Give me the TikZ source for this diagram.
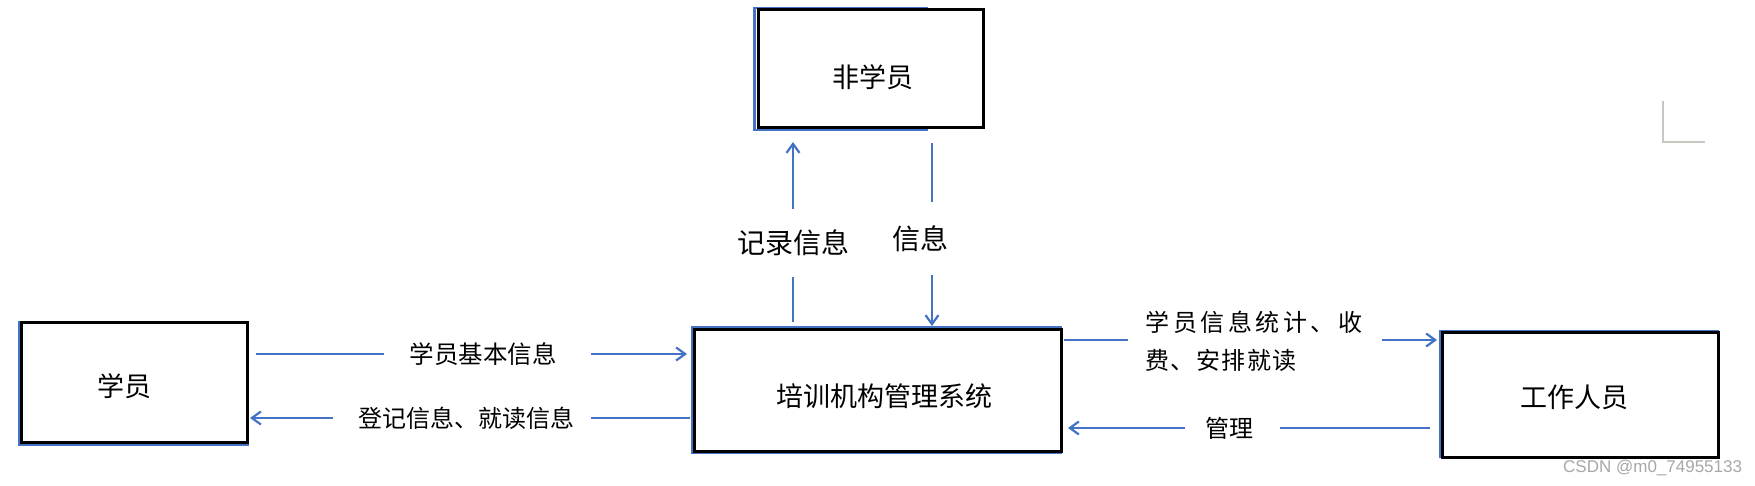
\documentclass[tikz,border=0pt]{standalone}
\usepackage{fontspec}
\setmainfont{Noto Sans CJK SC}
\newfontfamily\wmfont{Liberation Sans}
\usetikzlibrary{arrows.meta}
\definecolor{lnblue}{RGB}{68,114,196}
\definecolor{wmgray}{RGB}{168,168,168}
\definecolor{markgray}{RGB}{200,200,192}
\begin{document}
\begin{tikzpicture}[x=1pt,y=-1pt,
  box/.style={draw=black, line width=3pt, rectangle, inner sep=0pt},
  boxtext/.style={font=\fontsize{27}{30}\selectfont, inner sep=0pt},
  blueedge/.style={draw=lnblue, line width=2.4pt},
  conn/.style={draw=lnblue, line width=2.2pt, -{Straight Barb[length=9pt,width=13pt]}},
  lab/.style={fill=white, inner sep=0pt, font=\fontsize{24}{28}\selectfont},
  labbig/.style={fill=white, inner sep=0pt, font=\fontsize{28}{32}\selectfont},
  wm/.style={font=\wmfont\fontsize{17}{20}\selectfont, text=wmgray, inner sep=0pt}]
\useasboundingbox (0,0) rectangle (1755,486);
\fill[white] (0,0) rectangle (1755,486);

% blue under-edges of the original boxes
\draw[blueedge] (928,130) -- (754.5,130) -- (754.5,8) -- (928,8);
\draw[blueedge] (19,321) -- (19,445) -- (249,445);
\draw[blueedge] (1062,327.5) -- (692,327.5) -- (692,453) -- (1062,453);
\draw[blueedge] (1440,458) -- (1440,331) -- (1719,331);

% boxes
\node[box, minimum width=225pt, minimum height=118pt] (nonstu) at (870.5,69) {};
\node[box, minimum width=226pt, minimum height=120pt] (stu) at (134,382) {};
\node[box, minimum width=367pt, minimum height=122pt] (sys) at (877.5,390) {};
\node[box, minimum width=276pt, minimum height=125pt] (staff) at (1580,394.5) {};

\node[boxtext] (tnonstu) at (873,77) {非学员};
\node[boxtext] (tstu) at (124,386) {学员};
\node[boxtext] (tsys) at (884,396) {培训机构管理系统};
\node[boxtext] (tstaff) at (1574,397) {工作人员};

% label positions
\coordinate (c1) at (487.5,354);
\coordinate (c2) at (462,418);
\coordinate (c3) at (1254.5,340);
\coordinate (c4) at (1232.5,428);
\coordinate (c5) at (793,243);
\coordinate (c6) at (932,238.5);

% connectors
\draw[conn, shorten <=7.5pt, shorten >=5.5pt] (stu.east |- c1) -- (sys.west |- c1);
\draw[conn, shorten <=2.5pt, shorten >=1.5pt] (sys.west |- c2) -- (stu.east |- c2);
\draw[conn, shorten <=1pt, shorten >=3.5pt] (sys.east |- c3) -- (staff.west |- c3);
\draw[conn, shorten <=10.5pt, shorten >=5.5pt] (staff.west |- c4) -- (sys.east |- c4);
\draw[conn, shorten <=5.5pt, shorten >=12.5pt] (sys.north -| c5) -- (nonstu.south -| c5);
\draw[conn, shorten <=13.5pt, shorten >=1.5pt] (nonstu.south -| c6) -- (sys.north -| c6);

% labels (white, they break the connectors)
\node[lab, minimum width=207pt, minimum height=30pt, font=\fontsize{24.5}{28}\selectfont] (l1) at (c1) {\hspace*{-9pt}学员基本信息};
\node[lab, minimum width=258pt, minimum height=30pt] (l2) at (c2) {登记信息、就读信息\hspace*{-8pt}};
\node[lab, inner xsep=18pt, text width=218pt, align=left] (l3) at ([yshift=-1pt]c3)
  {\makebox[217pt][s]{学\hfil 员\hfil 信\hfil 息\hfil 统\hfil 计\hfil 、\hfil 收}\\[10pt]
   \makebox[151pt][s]{费\hfil 、\hfil 安\hfil 排\hfil 就\hfil 读}};
\node[lab, minimum width=95pt, minimum height=30pt] (l4) at (c4) {\hspace*{-7pt}管理};
\node[labbig, minimum height=68pt] (l5) at (c5) {记录信息};
\node[labbig, minimum height=73pt] (l6) at (c6) {\hspace*{-24pt}信息};

% corner mark and watermark
\draw[markgray, line width=1.5pt] (1663,101) -- (1663,142) -- (1705,142);
\node[wm, anchor=west] (wmark) at (1563,468) {CSDN @m0\_74955133};
\end{tikzpicture}
\end{document}
